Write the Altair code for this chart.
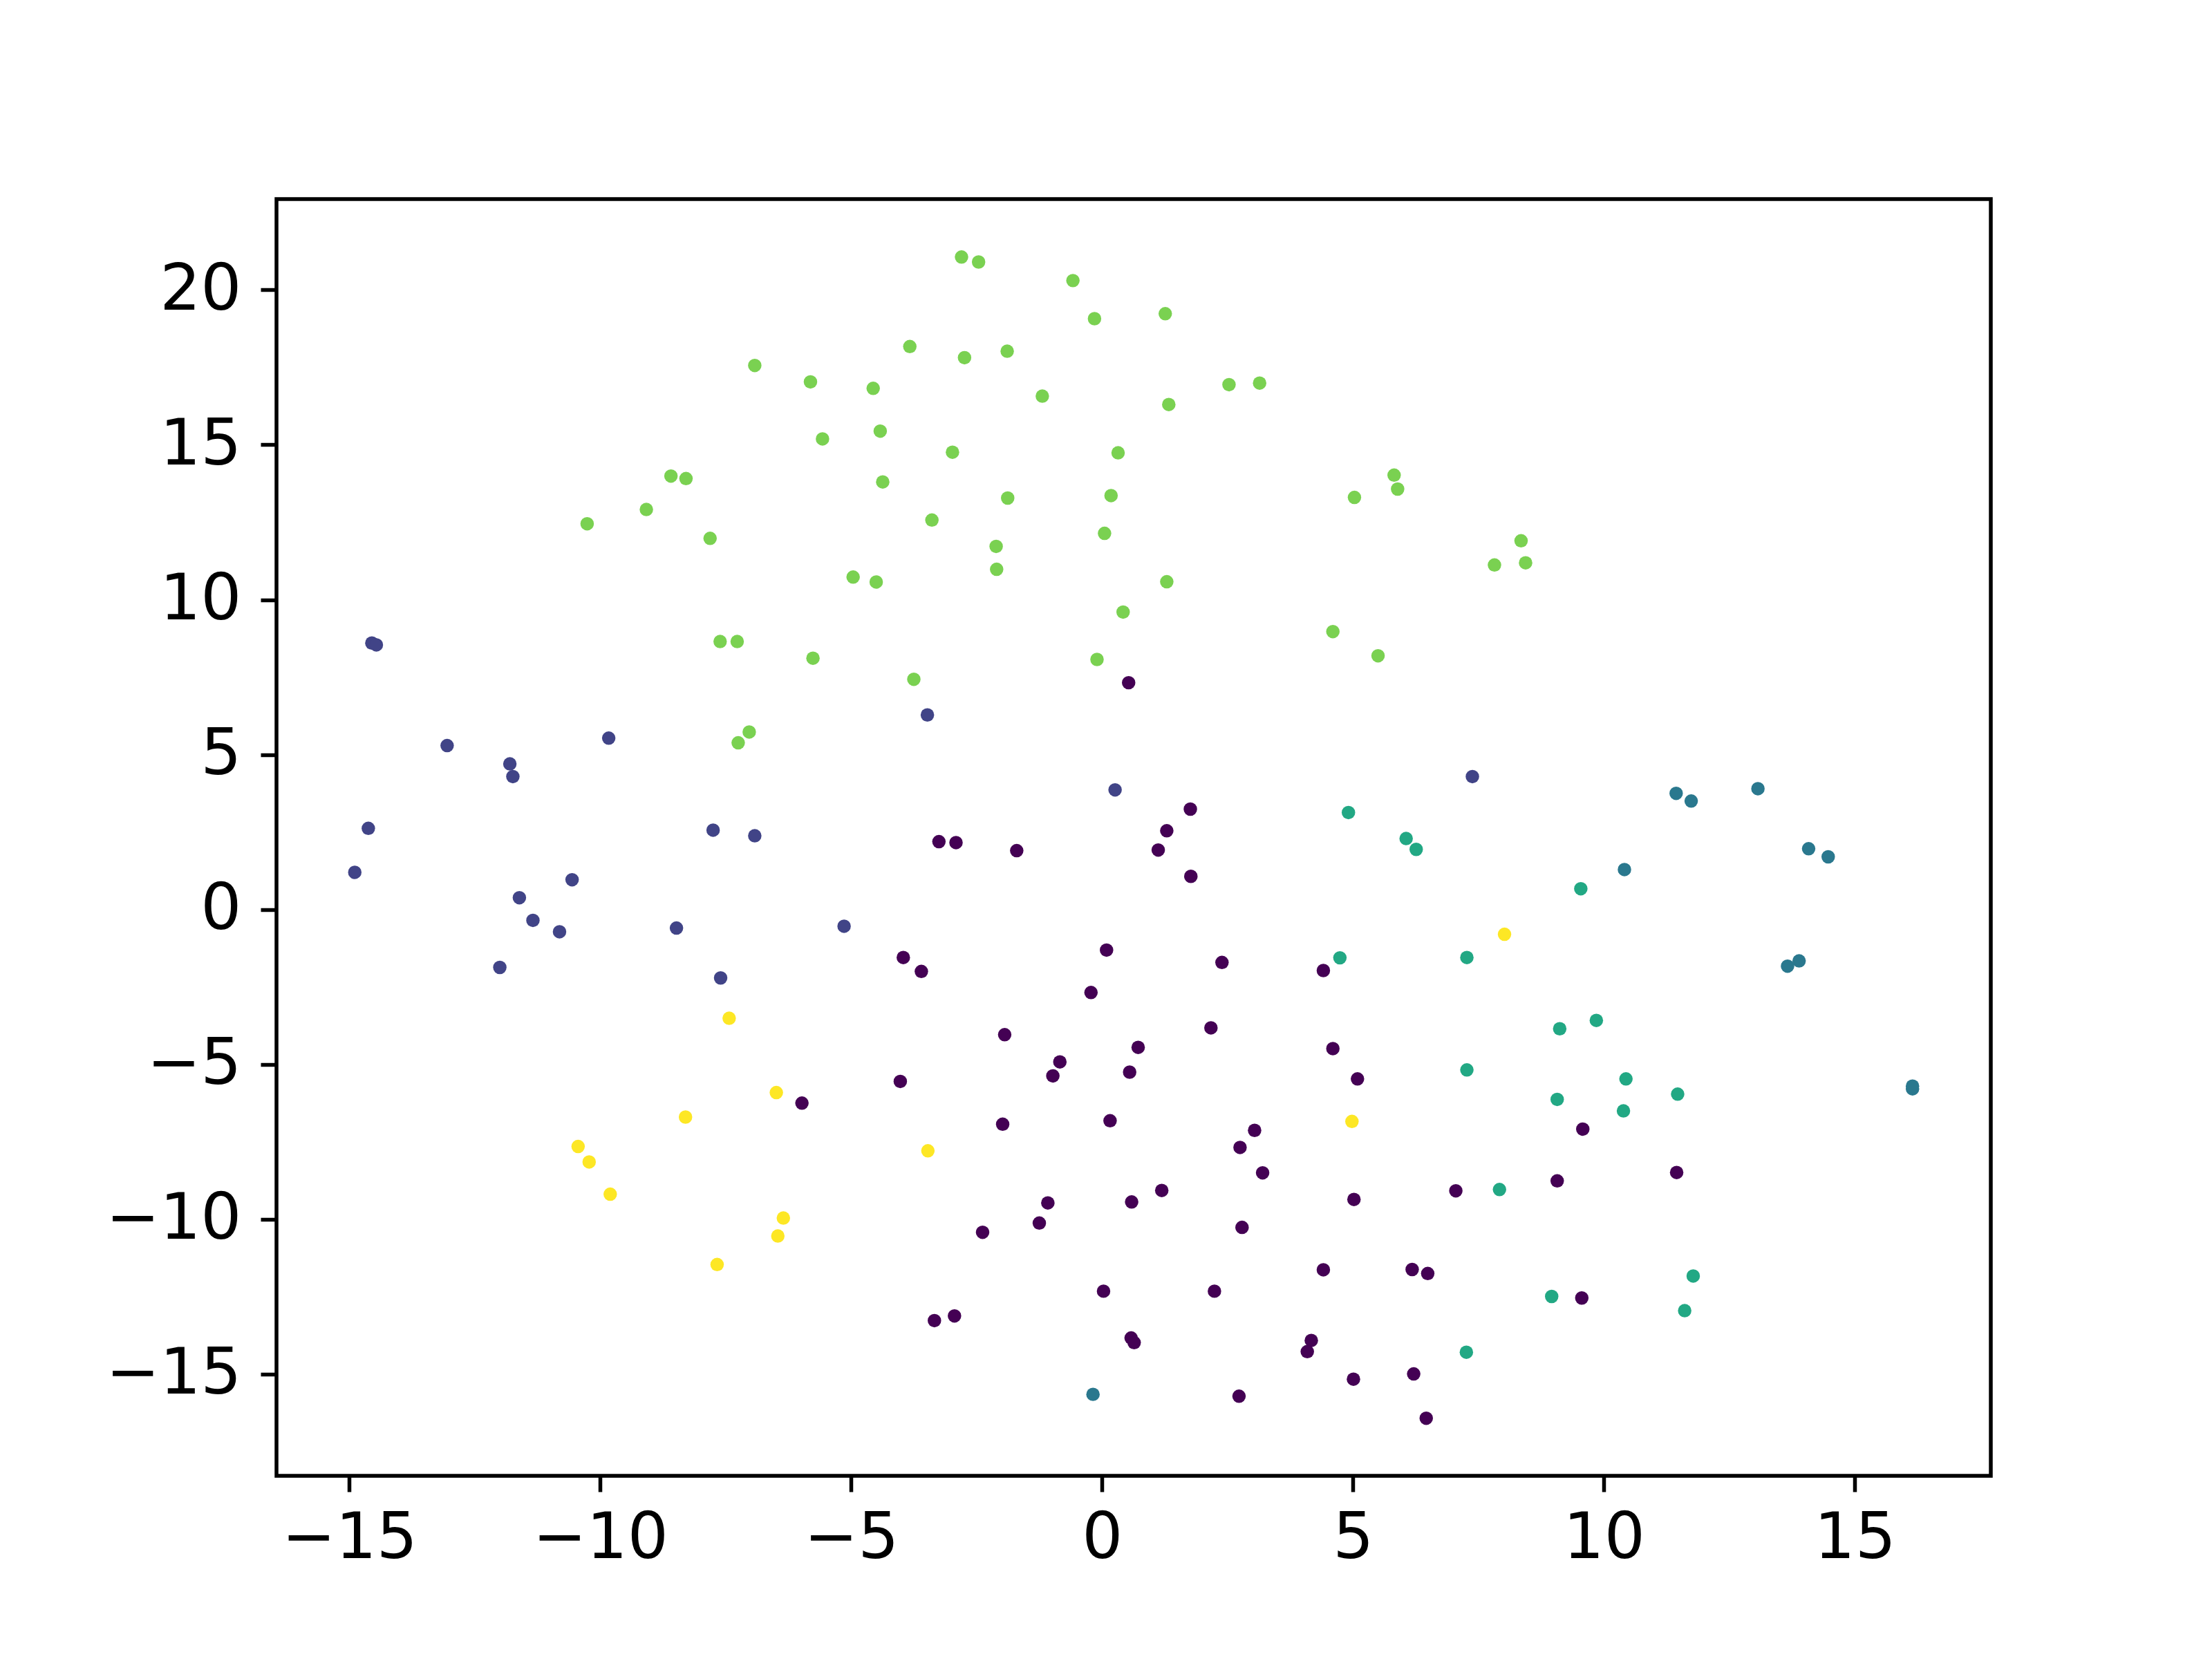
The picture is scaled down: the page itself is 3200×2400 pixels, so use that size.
import altair as alt
import pandas as pd

# class 0 (dark purple)
c0_x = [0.53, 1.76, 1.29, -3.25, -2.91, -1.70, 1.12, 1.77, -3.96, -3.60, 0.09, 2.39, 4.41,
        -0.22, 2.17, -1.94, 0.72, 4.60, -0.84, -0.98, 0.55, 5.09, -4.02, -5.98, -1.98, 0.16,
        3.04, 2.75, 3.20, 1.19, 0.59, -1.08, -1.25, -2.38, 5.02, 2.79, 4.41, 6.18, 6.49, 0.03,
        2.24, -3.34, -2.94, 0.58, 0.64, 4.17, 4.09, 5.01, 6.21, 2.73, 6.46,
        9.58, 9.07, 11.45, 7.05, 9.56]
c0_y = [7.32, 3.24, 2.54, 2.19, 2.16, 1.90, 1.92, 1.07, -1.55, -2.00, -1.31, -1.71, -1.97,
        -2.68, -3.82, -4.04, -4.45, -4.49, -4.92, -5.37, -5.25, -5.47, -5.55, -6.25, -6.93, -6.82,
        -7.13, -7.68, -8.50, -9.07, -9.44, -9.47, -10.12, -10.42, -9.36, -10.26, -11.63, -11.62, -11.75, -12.32,
        -12.32, -13.27, -13.12, -13.83, -13.98, -13.91, -14.27, -15.16, -14.99, -15.71, -16.42,
        -7.09, -8.76, -8.49, -9.08, -12.54]

# class 1 (dark blue)
c1_x = [-14.55, -14.46, -13.05, -9.83, -11.80, -11.74, -14.62, -7.75, -6.92, -14.89, -10.56,
        -11.61, -11.34, -10.81, -8.48, -5.14, -12.00, -7.60, -3.48, 0.26, 7.38]
c1_y = [8.60, 8.54, 5.29, 5.53, 4.70, 4.29, 2.62, 2.56, 2.38, 1.20, 0.96,
        0.38, -0.35, -0.72, -0.60, -0.54, -1.87, -2.21, 6.28, 3.86, 4.29]

# class 2 (blue-teal)
c2_x = [11.44, 11.74, 13.07, 14.08, 14.47, 10.41, 13.66, 13.89, 16.15, 16.15, -0.18]
c2_y = [3.75, 3.50, 3.90, 1.96, 1.70, 1.29, -1.83, -1.66, -5.79, -5.70, -15.65]

# class 3 (green-teal)
c3_x = [4.91, 6.06, 6.26, 9.54, 4.74, 7.27, 9.12, 9.85, 7.27, 10.44, 9.07, 11.47, 10.39,
        7.92, 11.78, 8.96, 11.61, 7.26]
c3_y = [3.13, 2.29, 1.94, 0.67, -1.56, -1.55, -3.85, -3.58, -5.18, -5.47, -6.13, -5.96, -6.50,
        -9.04, -11.83, -12.49, -12.95, -14.29]

# class 4 (light green)
c4_x = [-6.92, -5.81, -5.57, -8.59, -8.29, -9.08, -10.26, -7.81, -4.96, -7.61, -7.27, -5.76,
        -7.03, -7.25,
        -2.80, -2.46, -0.58, -0.15, 1.26, -3.83, -2.74, -1.89, -4.56, -1.19, 1.33, 2.53, 3.14,
        -4.42, -2.98, 0.32, -4.37, -1.88, 0.18, 5.82, 5.89, 5.03, -3.39, -2.11, 0.05, -4.50,
        -2.10, 1.29, 0.42, 4.60, 5.50, -0.10, -3.75,
        8.35, 7.82, 8.44]
c4_y = [17.56, 17.03, 15.19, 13.99, 13.91, 12.91, 12.45, 11.98, 10.73, 8.65, 8.65, 8.11,
        5.73, 5.38,
        21.06, 20.90, 20.30, 19.07, 19.23, 18.17, 17.81, 18.02, 16.82, 16.57, 16.30, 16.94, 16.99,
        15.44, 14.76, 14.74, 13.80, 13.28, 13.36, 14.02, 13.57, 13.30, 12.57, 11.72, 12.14, 10.57,
        10.98, 10.58, 9.60, 8.97, 8.19, 8.07, 7.43,
        11.90, 11.12, 11.19]

# class 5 (yellow)
c5_x = [-7.43, -6.49, -8.30, -10.44, -10.22, -9.80, -6.35, -6.46, -7.67, -3.47, 4.98, 8.02]
c5_y = [-3.51, -5.91, -6.70, -7.65, -8.15, -9.19, -9.96, -10.54, -11.46, -7.79, -6.84, -0.80]

class_names = ["0", "1", "2", "3", "4", "5"]
class_colors = ["#440154", "#414487", "#2a788e", "#22a884", "#7ad151", "#fde725"]

x_ticks = [-15, -10, -5, 0, 5, 10, 15]
y_ticks = [-15, -10, -5, 0, 5, 10, 15, 20]
x_domain = [-16.45, 17.71]
y_domain = [-18.28, 22.93]

rows = []
for name, xs, ys in zip(class_names,
                        [c0_x, c1_x, c2_x, c3_x, c4_x, c5_x],
                        [c0_y, c1_y, c2_y, c3_y, c4_y, c5_y]):
    for xv, yv in zip(xs, ys):
        rows.append({"x": xv, "y": yv, "c": name})
df = pd.DataFrame(rows)

label_expr = "datum.value < 0 ? '\u2212' + abs(datum.value) : '' + datum.value"

axis_common = dict(
    title=None, grid=False, domain=False,
    tickColor="black", tickWidth=5.5, tickSize=23,
    labelColor="black", labelFont="DejaVu Sans", labelFontSize=93,
    labelLimit=1000, labelExpr=label_expr,
)

chart = alt.Chart(df).mark_circle(size=380, opacity=1).encode(
    x=alt.X("x:Q",
            scale=alt.Scale(domain=x_domain, nice=False, zero=False),
            axis=alt.Axis(values=x_ticks, labelPadding=22, **axis_common)),
    y=alt.Y("y:Q",
            scale=alt.Scale(domain=y_domain, nice=False, zero=False),
            axis=alt.Axis(values=y_ticks, labelPadding=28, **axis_common)),
    color=alt.Color("c:N", scale=alt.Scale(domain=class_names, range=class_colors), legend=None),
).properties(
    width=2480,
    height=1847,
    autosize=alt.AutoSizeParams(type="none"),
    padding={"left": 392, "top": 280, "right": 312, "bottom": 257},
).configure(
    background="white",
    view=alt.ViewConfig(stroke="black", strokeWidth=5.5),
)

chart.save("out.html", embed_options={"renderer": "svg", "actions": False})
